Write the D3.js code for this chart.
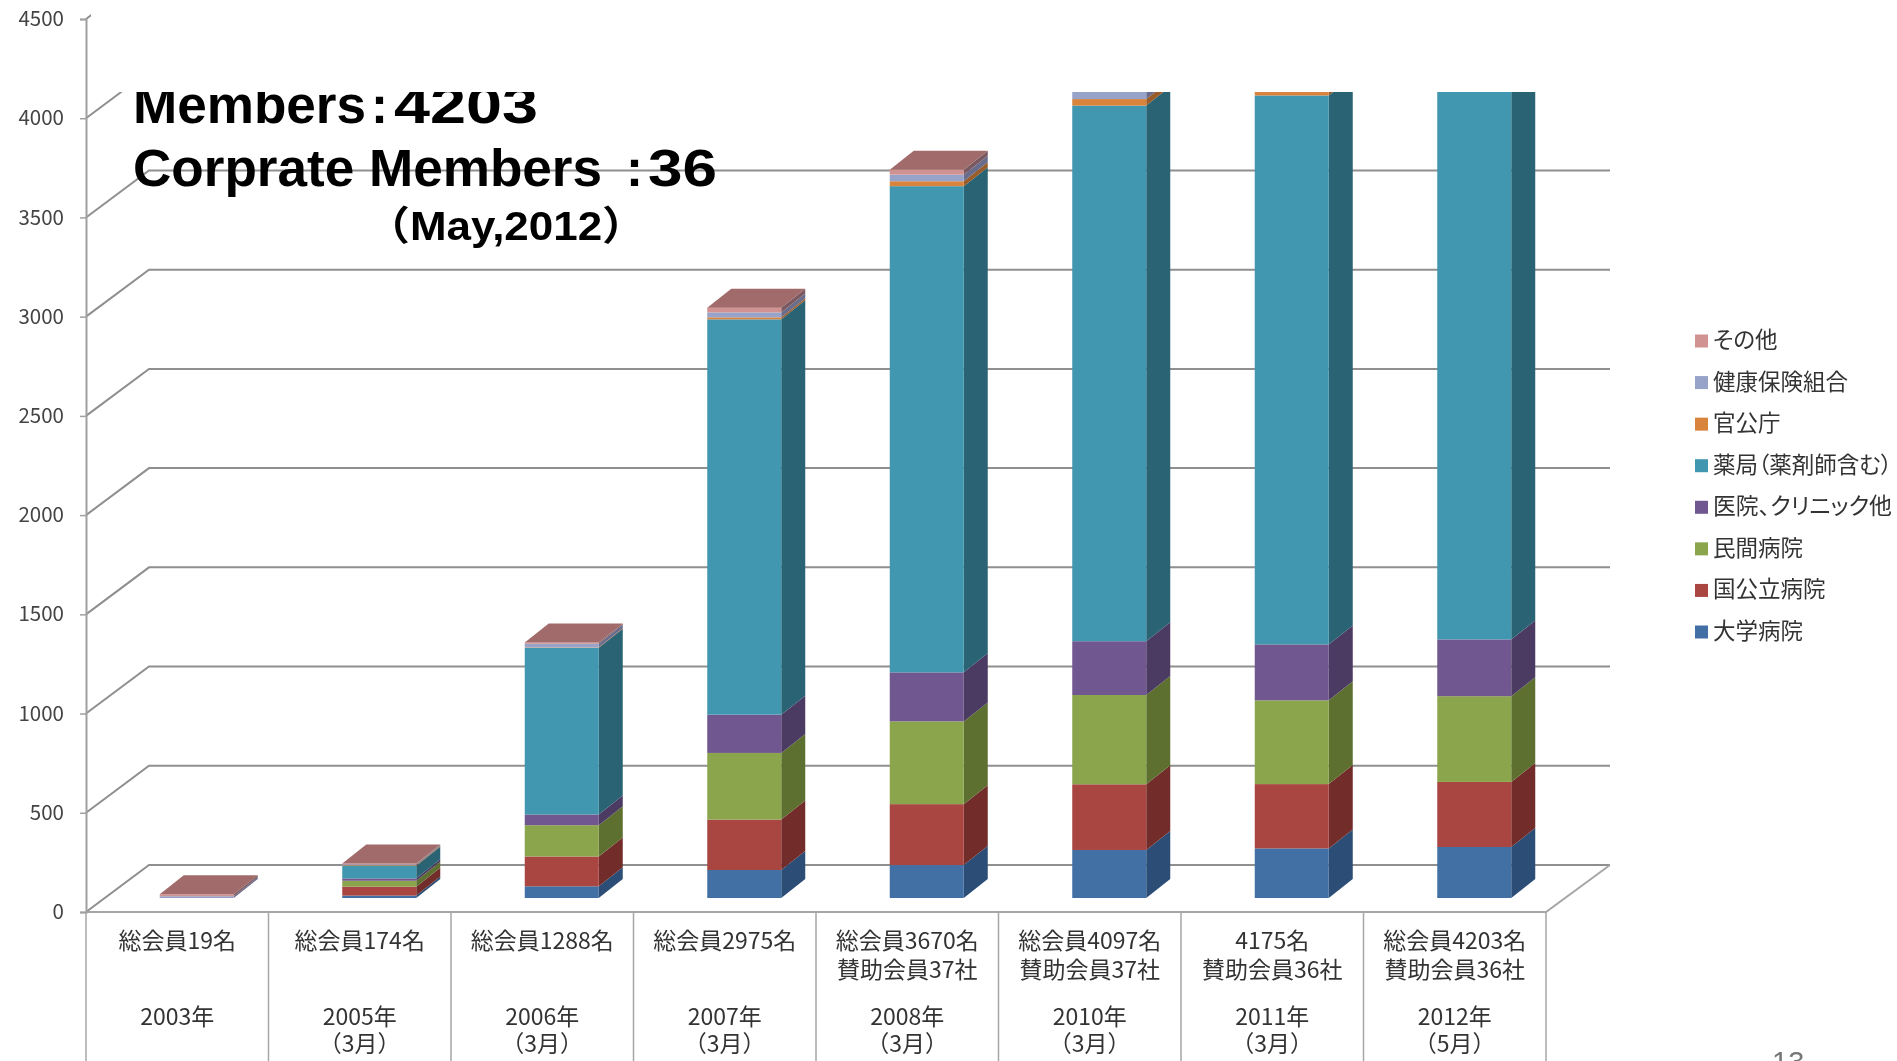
<!DOCTYPE html>
<html>
<head>
<meta charset="utf-8">
<script src="https://cdnjs.cloudflare.com/ajax/libs/d3/7.8.5/d3.min.js"></script>
<style>
  html, body { margin: 0; padding: 0; background: #fff; overflow: hidden; }
  svg { filter: blur(0.4px); }
  text { font-family: "Noto Sans CJK JP", sans-serif; fill: #333; }
  .title { font-family: "Liberation Sans", "Noto Sans CJK JP", sans-serif; font-weight: bold; fill: #000; }
  .legend text { font-feature-settings: "palt"; }
</style>
</head>
<body>
<script>
// values
var years = ["2003", "2005", "2006", "2007", "2008", "2010", "2011", "2012"];
var topLabels = [["総会員19名"], ["総会員174名"], ["総会員1288名"], ["総会員2975名"],
  ["総会員3670名", "賛助会員37社"], ["総会員4097名", "賛助会員37社"],
  ["4175名", "賛助会員36社"], ["総会員4203名", "賛助会員36社"]];
var bottomLabels = [["2003年"], ["2005年", "（3月）"], ["2006年", "（3月）"], ["2007年", "（3月）"],
  ["2008年", "（3月）"], ["2010年", "（3月）"], ["2011年", "（3月）"], ["2012年", "（5月）"]];

var daigaku  = [0, 12, 59, 141, 166, 242, 250, 257];
var kokuritu = [0, 45, 150, 254, 307, 331, 324, 328];
var minkan   = [0, 30, 158, 336, 417, 450, 422, 432];
var iin      = [0, 12, 54, 193, 247, 271, 282, 286];
var yakkyoku = [0, 64, 840, 1992, 2450, 2699, 2766, 2760];
var kankou   = [0, 3, 2, 10, 25, 33, 30, 28];
var kenpo    = [9, 4, 18, 25, 33, 50, 70, 80];
var sonota   = [10, 4, 7, 24, 25, 21, 31, 32];

var seriesNames = ["大学病院", "国公立病院", "民間病院", "医院、クリニック他", "薬局（薬剤師含む）", "官公庁", "健康保険組合", "その他"];
var seriesValues = [daigaku, kokuritu, minkan, iin, yakkyoku, kankou, kenpo, sonota];
var frontColors = ["#4270a5", "#aa4642", "#8aa54c", "#71578f", "#4197b0", "#d9843d", "#97a3c9", "#d19392"];
var sideColors = ["#2c4d75", "#722c29", "#5d7030", "#4b3a62", "#2a6373", "#9a5c28", "#6a6c8c", "#7a5a60"];
var topColor = "#a26b6b";
var yTicks = d3.range(0, 4501, 500);

var width = 1897, height = 1061;

// floor and bar depth of the fake 3d
var left = 86, right = 1546, floorY = 912, topY = 19;
var wallDx = 63, wallDy = -47;
var barW = 74, barDx = 24, barDy = -19;

var svg = d3.select("body").append("svg").attr("width", width).attr("height", height);

var x = d3.scaleBand().domain(years).range([left, right]);
var y = d3.scaleLinear().domain([0, 4500]).range([floorY, topY]);

var table = years.map(function(yr, i){
  var row = {year: yr};
  seriesNames.forEach(function(n, k){ row[n] = seriesValues[k][i]; });
  return row;
});
var stacked = d3.stack().keys(seriesNames)(table);

// wall grid lines
var grid = svg.append("g").attr("fill", "none").attr("stroke", "#8f8f8f").attr("stroke-width", 2);
grid.selectAll("path").data(yTicks).join("path")
  .attr("d", function(v){
    var p = d3.path();
    p.moveTo(left, y(v));
    p.lineTo(left + wallDx, y(v) + wallDy);
    p.lineTo(right + wallDx + 1, y(v) + wallDy);
    return p.toString();
  });

// floor edge and category separators
svg.append("path").attr("fill", "none").attr("stroke", "#a6a6a6").attr("stroke-width", 2)
  .attr("d", d3.line()([[right + wallDx + 1, floorY + wallDy], [right, floorY], [left, floorY]]));
svg.append("g").selectAll("line").data(years.concat(["end"])).join("line")
  .attr("x1", function(d){ return d == "end" ? right : x(d); })
  .attr("x2", function(d){ return d == "end" ? right : x(d); })
  .attr("y1", floorY).attr("y2", height)
  .attr("stroke", "#a6a6a6").attr("stroke-width", 1.5);

// bars
var barX = function(yr){
  return x(yr) + x.bandwidth() / 2 + (wallDx - barDx) / 2 - barW / 2;
};
var barShift = (wallDy - barDy) / 2;
var by = function(v){ return y(v) + barShift; };

var layers = svg.append("g").selectAll("g").data(stacked).join("g");
// side faces
layers.selectAll(".side").data(function(s){ return s.map(function(d){ return {d: d, i: s.index}; }); }).join("path")
  .attr("class", "side")
  .attr("fill", function(e){ return sideColors[e.i]; })
  .attr("d", function(e){
    var x1 = barX(e.d.data.year) + barW;
    var y0 = by(e.d[0]), y1 = by(e.d[1]);
    return d3.line()([[x1, y0], [x1 + barDx, y0 + barDy], [x1 + barDx, y1 + barDy], [x1, y1]]) + "Z";
  });
// front faces
layers.selectAll(".front").data(function(s){ return s.map(function(d){ return {d: d, i: s.index}; }); }).join("rect")
  .attr("class", "front")
  .attr("fill", function(e){ return frontColors[e.i]; })
  .attr("x", function(e){ return barX(e.d.data.year); })
  .attr("y", function(e){ return by(e.d[1]); })
  .attr("width", barW)
  .attr("height", function(e){ return by(e.d[0]) - by(e.d[1]); });
// top faces
svg.append("g").selectAll("path").data(stacked[stacked.length - 1]).join("path")
  .attr("fill", topColor)
  .attr("d", function(d){
    var x0 = barX(d.data.year), yt = by(d[1]);
    return d3.line()([[x0, yt], [x0 + barW, yt], [x0 + barW + barDx, yt + barDy], [x0 + barDx, yt + barDy]]) + "Z";
  });

// the white box of the slide that hides the top of the chart
var maskX = 91, maskY = 92;
svg.append("rect").attr("x", maskX).attr("y", 0).attr("width", width - maskX).attr("height", maskY).attr("fill", "#fff");

// value axis
var axis = d3.axisLeft(y).tickValues(yTicks).tickSize(6).tickPadding(16).tickFormat(d3.format("d"));
var ag = svg.append("g").attr("transform", "translate(" + left + ",0)").call(axis);
ag.selectAll("line").attr("stroke", "#a0a0a0").attr("stroke-width", 1.5);
ag.select(".domain").attr("stroke", "#a0a0a0").attr("stroke-width", 2);
ag.selectAll("text").style("font-size", "20.5px").style("fill", "#444").style("font-family", '"Noto Sans CJK JP", sans-serif');

// category labels
var catG = svg.append("g").attr("text-anchor", "middle").style("font-size", "23px");
var lineY = [949, 978];
var yearY = [1025, 1052];
years.forEach(function(yr, i){
  var cx = x(yr) + x.bandwidth() / 2;
  topLabels[i].forEach(function(t, k){
    catG.append("text").attr("x", cx).attr("y", lineY[k]).text(t);
  });
  bottomLabels[i].forEach(function(t, k){
    catG.append("text").attr("x", cx).attr("y", yearY[k]).text(t);
  });
});

// legend, top entry first
var legendY = d3.scalePoint().domain(seriesNames.slice().reverse()).range([341, 632]);
var legend = svg.append("g").attr("class", "legend").selectAll("g").data(seriesNames).join("g")
  .attr("transform", function(d){ return "translate(1695," + legendY(d) + ")"; });
legend.append("rect").attr("x", 0).attr("y", -6.5).attr("width", 13).attr("height", 13)
  .attr("fill", function(d, i){ return frontColors[i]; });
legend.append("text").attr("x", 18).attr("y", 7).style("font-size", "22.5px")
  .each(function(d){
    // the two long entries have squeezed punctuation in the original
    if (d.length == 9) d3.select(this).attr("textLength", 179).attr("lengthAdjust", "spacingAndGlyphs");
  })
  .text(function(d){ return d; });

// overlay text, the first line is cut by the box edge
svg.append("clipPath").attr("id", "boxClip").append("rect")
  .attr("x", 0).attr("y", maskY).attr("width", width).attr("height", height);
var title = svg.append("g").attr("clip-path", "url(#boxClip)");
function titleText(tx, ty, size, len, str){
  var t = title.append("text").attr("class", "title").attr("x", tx).attr("y", ty).style("font-size", size + "px").text(str);
  if (len) t.attr("textLength", len).attr("lengthAdjust", "spacingAndGlyphs");
}
titleText(133, 123, 51, 233, "Members");
titleText(371, 123, 51, 0, ":");
titleText(394, 123, 51, 144, "4203");
titleText(133, 186, 51, 469, "Corprate Members");
titleText(626, 186, 51, 0, ":");
titleText(648, 186, 51, 69, "36");
titleText(366, 240, 40, 280, "（May,2012）");

// slide number, cut by the bottom of the page
svg.append("text").attr("x", 1772).attr("y", 1072).style("font-family", '"Liberation Sans", sans-serif')
  .style("font-size", "29px").style("fill", "#777").text("13");
</script>
</body>
</html>
